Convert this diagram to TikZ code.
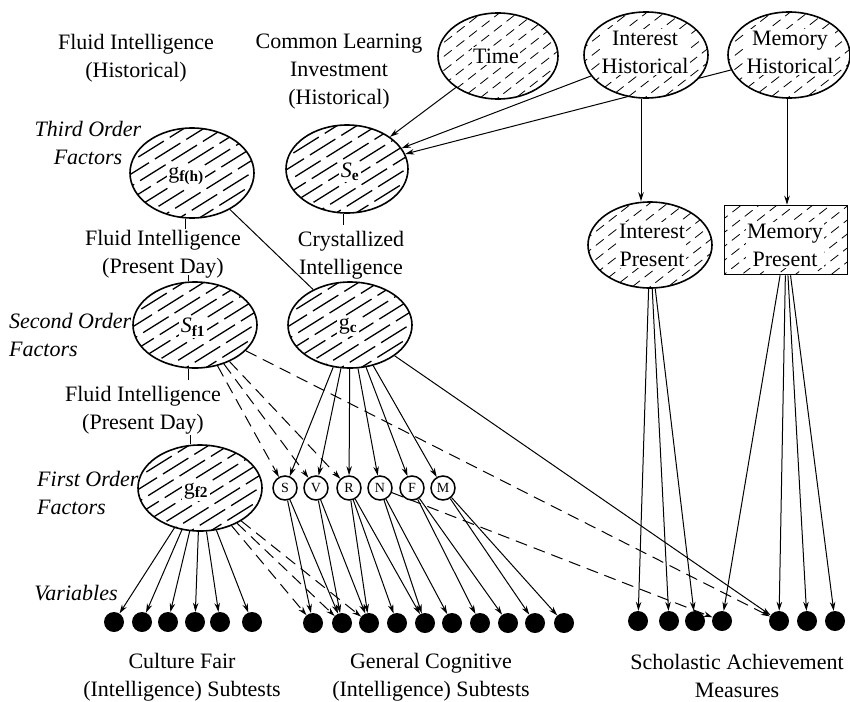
\documentclass[tikz,border=0pt]{standalone}
\usepackage{fontspec}
\setmainfont{Liberation Serif}
\usetikzlibrary{shapes.geometric,arrows.meta,calc}
\pgfdeclarelayer{bg}
\pgfsetlayers{bg,main}
\tikzset{
  lab/.style={font=\fontsize{22}{28}\selectfont, align=center, inner sep=0pt},
  ital/.style={font=\fontsize{22}{28}\selectfont\itshape, inner sep=0pt},
  txt/.style={font=\fontsize{22}{28}\selectfont, align=center, fill=white, inner sep=1.5pt},
  hatchA/.style={path picture={
      \foreach \k [evaluate=\k as \ph using {mod(abs(\k*13+40),37)},
                   evaluate=\k as \sx using {-130*cos(32)-(\k)*10.5*sin(32)},
                   evaluate=\k as \sy using {-130*sin(32)+(\k)*10.5*cos(32)}] in {-9,...,9}{
        \draw[line width=1.3pt, dash pattern=on 30pt off 7pt, dash phase=\ph pt]
          ($(path picture bounding box.center)+(\sx pt,\sy pt)$) -- ++(220.49pt,137.78pt);}
    }},
  hatchB/.style={path picture={
      \foreach \k [evaluate=\k as \ph using {mod(abs(\k*7+20),16)},
                   evaluate=\k as \sx using {-130*cos(38)-(\k)*11*sin(38)},
                   evaluate=\k as \sy using {-130*sin(38)+(\k)*11*cos(38)}] in {-9,...,9}{
        \draw[line width=0.8pt, dash pattern=on 10pt off 6pt, dash phase=\ph pt]
          ($(path picture bounding box.center)+(\sx pt,\sy pt)$) -- ++(204.88pt,160.07pt);}
    }},
  ell/.style={ellipse, draw, line width=1.6pt, fill=white, inner sep=0pt, minimum width=124pt, minimum height=86pt},
  smallc/.style={circle, draw, line width=1.5pt, fill=white, minimum size=24pt, inner sep=0pt, font=\fontsize{14}{14}\selectfont},
  blackdot/.style={circle, fill=black, minimum size=20pt, inner sep=0pt},
  arr/.style={-{Stealth[length=9pt,width=5.5pt]}, line width=1pt},
  darr/.style={arr, dash pattern=on 12pt off 7pt},
  plain/.style={line width=1pt},
}
\begin{document}
\begin{tikzpicture}[x=1pt,y=-1pt]
\begin{pgfonlayer}{bg}
\fill[white] (0,0) rectangle (850,701);
\end{pgfonlayer}
\useasboundingbox (0,0) rectangle (850,701);

% ---------- labels ----------
\node[lab] (FIH) at (136,58) {Fluid Intelligence\\(Historical)};
\node[lab] (CLI) at (339,72) {Common Learning\\Investment\\(Historical)};
\node[ital, align=center] (TOF) at (88,143) {Third Order\\Factors};
\node[lab] (FIPD1) at (163,254) {Fluid Intelligence\\(Present Day)};
\node[lab] (CI) at (351,255) {Crystallized\\Intelligence};
\node[ital, align=left, anchor=west] (SOF) at (9,335) {Second Order\\Factors};
\node[lab] (FIPD2) at (143,410) {Fluid Intelligence\\(Present Day)};
\node[ital, align=left, anchor=west] (FOF) at (37,493) {First Order\\Factors};
\node[ital] (VAR) at (76,593) {Variables};
\node[lab] (CFL) at (182,677) {Culture Fair\\(Intelligence) Subtests};
\node[lab] (GCL) at (431,677) {General Cognitive\\(Intelligence) Subtests};
\node[lab] (SAL) at (737,676) {Scholastic Achievement\\Measures};

% ---------- factor nodes ----------
\node[ell, hatchB, minimum width=120pt] (Time) at (498,56) {};
\node[ell, hatchB] (IH) at (646,55) {};
\node[ell, hatchB, minimum width=122pt] (MH) at (789,55) {};
\node[ell, hatchA, minimum height=90pt] (gfh) at (192,173) {};
\node[ell, hatchA, minimum width=122pt, minimum height=88pt] (Se) at (347,169) {};
\node[ell, hatchA] (Sf1) at (195,325) {};
\node[ell, hatchA] (gc) at (350,325) {};
\node[ell, hatchA] (gf2) at (200,488) {};
\node[ell, hatchB] (IP) at (650,245) {};
\node[draw, line width=1.6pt, fill=white, hatchB, minimum width=123pt, minimum height=69pt, inner sep=0pt] (MP) at (786,240) {};

\node[txt] (Timet) at (496,56) {Time};
\node[txt] (IHt) at (645,52) {Interest\\Historical};
\node[txt] (MHt) at (790,52) {Memory\\Historical};
\node[txt] (IPt) at (652,245) {Interest\\Present};
\node[txt] (MPt) at (785,245) {Memory\\Present};
\node[txt] (gfht) at (186,176) {g\textsubscript{\textbf{f(h)}}};
\node[txt] (Set) at (350,172) {\textit{S}\textsubscript{\textbf{e}}};
\node[txt] (Sf1t) at (193,327) {\textit{S}\textsubscript{\textbf{f1}}};
\node[txt] (gct) at (348,326) {g\textsubscript{\textbf{c}}};
\node[txt] (gf2t) at (196,491) {g\textsubscript{\textbf{f2}}};

% ---------- first-order small factors ----------
\foreach \n/\x in {S/285,V/316,R/349,N/380,F/412,M/443}
  \node[smallc] (c\n) at (\x,488) {\n};

% ---------- variables ----------
\foreach \i/\x in {1/114,2/142,3/168,4/195,5/220,6/252}
  \node[blackdot] (cf\i) at (\x,622) {};
\foreach \i/\x in {1/313,2/342,3/369,4/397,5/425,6/452,7/480,8/508,9/535,10/564}
  \node[blackdot] (gv\i) at (\x,623) {};
\foreach \i/\x in {1/638,2/669,3/695,4/722,5/779,6/807,7/835}
  \node[blackdot] (sa\i) at (\x,621) {};

% ---------- connectors ----------
\begin{pgfonlayer}{bg}
\draw[arr] (Time) -- (Se);
\draw[arr] (IH) -- (Se);
\draw[arr] (MH) -- (Se);
\draw[arr] ([xshift=-5pt]IH.south) -- ([xshift=-9pt]IP.north);
\draw[arr] ([xshift=-2pt]MH.south) -- ([xshift=1pt]MP.north);
\draw[plain] (gfh) -- (gc);
% label ticks
\draw[plain] ([xshift=-7pt]gfh.south) -- ++(0,10);
\draw[plain] ([xshift=-4pt]Se.south) -- ++(0,11);
\draw[plain] ([xshift=-7pt]Sf1.north) -- ++(0,-6);
\draw[plain] ([xshift=-7pt]Sf1.south) -- ++(0,11);
\draw[plain] ([xshift=-10pt]gf2.north) -- ++(0,-9);
% second order
\foreach \n in {S,V,R,N,F,M} \draw[arr] (gc) -- (c\n);
\foreach \n in {S,V,R} \draw[darr] (Sf1) -- (c\n);
\draw[darr] (Sf1) -- (sa5);
\draw[arr] (gc) -- (sa5);
\draw[darr] (cN) -- (sa4);
% first order
\foreach \i in {1,...,6} \draw[arr] (gf2) -- (cf\i);
\foreach \i in {1,2,3} \draw[darr] (gf2) -- (gv\i);
\draw[arr] (cS) -- (gv1); \draw[arr] (cS) -- (gv2);
\draw[arr] (cV) -- (gv2); \draw[arr] (cV) -- (gv3);
\draw[arr] (cR) -- (gv3); \draw[arr] (cR) -- (gv4); \draw[arr] (cR) -- (gv5);
\draw[arr] (cN) -- (gv5); \draw[arr] (cN) -- (gv6);
\draw[arr] (cF) -- (gv7); \draw[arr] (cF) -- (gv8);
\draw[arr] (cM) -- (gv9); \draw[arr] (cM) -- (gv10);
\foreach \i in {1,2,3} \draw[arr] (IP) -- (sa\i);
\foreach \i in {4,5,6,7} \draw[arr] (MP) -- (sa\i);
\end{pgfonlayer}
\end{tikzpicture}
\end{document}
